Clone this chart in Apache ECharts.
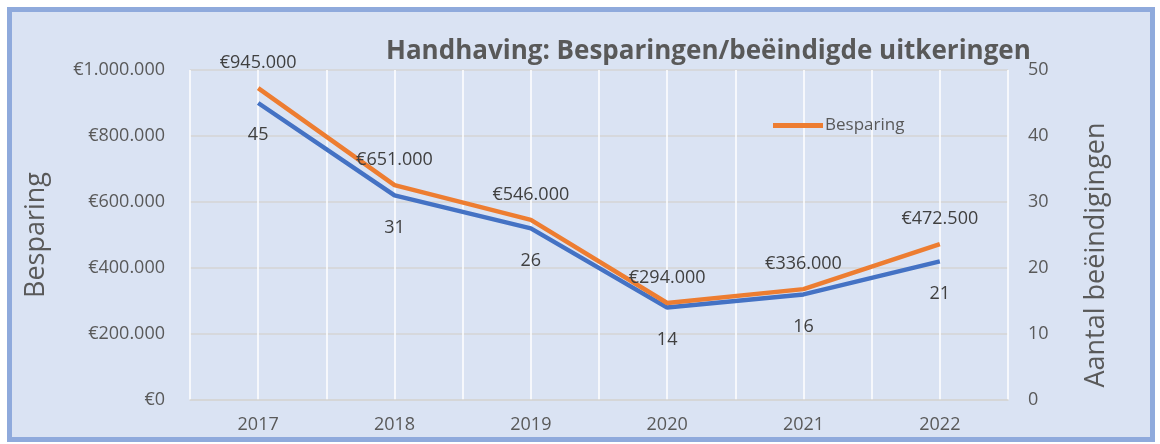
<!DOCTYPE html>
<html>
<head>
    <meta charset="utf-8">
    <title>Handhaving</title>
    <script src="https://cdn.jsdelivr.net/npm/echarts@6/dist/echarts.min.js"></script>
    <style>
        body { margin: 0; background: #fff; }
        #frame { position: absolute; left: 7px; top: 7px; width: 1148px; height: 435px;
                 box-sizing: border-box; border: 5px solid #8faadc; background: #dae3f3; }
        #main { position: absolute; left: 0; top: 0; width: 1160px; height: 444px; }
    </style>
</head>
<body>
<div id="frame"></div>
<div id="main"></div>

<script type="text/javascript">
    // data
    var years = ['2017', '2018', '2019', '2020', '2021', '2022'];
    var besparing = [945000, 651000, 546000, 294000, 336000, 472500];
    var aantal = [45, 31, 26, 14, 16, 21];

    var grijs = '#595959';
    var font = '"Open Sans", sans-serif';

    // €1.000.000 notatie
    function euro(v) {
        return '€' + String(v).replace(/\B(?=(\d{3})+(?!\d))/g, '.');
    }

    var myChart = echarts.init(document.getElementById('main'));
    myChart.setOption({
        backgroundColor: 'transparent',
        animation: false,
        textStyle: { fontFamily: font },
        title: {
            text: 'Handhaving: Besparingen/beëindigde uitkeringen',
            left: 381,
            top: 34,
            textStyle: { fontSize: 26, fontWeight: 'bold', color: grijs, fontFamily: font }
        },
        legend: {
            data: ['Besparing'],
            left: 768,
            top: 112,
            icon: 'rect',
            itemWidth: 50,
            itemHeight: 5,
            itemGap: 2,
            textStyle: { fontSize: 17, color: grijs, fontFamily: font, padding: [0, 0, 0, -3] }
        },
        grid: { left: 190, right: 152, top: 70, bottom: 44 },
        xAxis: [{
            type: 'category',
            data: years,
            boundaryGap: true,
            axisLine: { lineStyle: { color: '#d5d5d5', width: 1.5 } },
            axisTick: { show: false },
            axisLabel: { color: grijs, fontSize: 18, margin: 16 },
            splitLine: { show: false }
        }, {
            // alleen voor de witte verticale lijnen
            type: 'value',
            min: 0,
            max: 12,
            interval: 1,
            position: 'bottom',
            axisLine: { show: false },
            axisTick: { show: false },
            axisLabel: { show: false },
            splitLine: { show: true, lineStyle: { color: '#ffffff', width: 1.5 } }
        }],
        yAxis: [{
            type: 'value',
            min: 0,
            max: 1000000,
            interval: 200000,
            name: 'Besparing',
            nameLocation: 'middle',
            nameGap: 140,
            nameTextStyle: { fontSize: 27, color: grijs },
            axisLine: { show: false },
            axisTick: { show: false },
            axisLabel: { color: grijs, fontSize: 18, margin: 25, formatter: euro },
            splitLine: { lineStyle: { color: '#d5d5d5', width: 1.5 } }
        }, {
            type: 'value',
            min: 0,
            max: 50,
            interval: 10,
            name: 'Aantal beëindigingen',
            nameLocation: 'middle',
            nameGap: 75,
            nameTextStyle: { fontSize: 27, color: grijs, padding: [0, 40, 0, 0] },
            axisLine: { show: false },
            axisTick: { show: false },
            axisLabel: { color: grijs, fontSize: 18, margin: 20 },
            splitLine: { show: false }
        }],
        series: [{
            name: 'Aantal beëindigingen',
            type: 'line',
            yAxisIndex: 1,
            data: aantal,
            symbol: 'circle',
            symbolSize: 0,
            lineStyle: { color: '#4472c4', width: 4.5 },
            itemStyle: { color: '#4472c4' },
            label: { show: true, position: 'bottom', distance: 23, color: '#404040', fontSize: 18 }
        }, {
            name: 'Besparing',
            type: 'line',
            yAxisIndex: 0,
            data: besparing,
            symbol: 'circle',
            symbolSize: 0,
            lineStyle: { color: '#ed7d31', width: 4.5 },
            itemStyle: { color: '#ed7d31' },
            label: {
                show: true, position: 'top', distance: 16, color: '#404040', fontSize: 18,
                formatter: function (p) { return euro(p.value); }
            }
        }]
    });
</script>
</body>
</html>
